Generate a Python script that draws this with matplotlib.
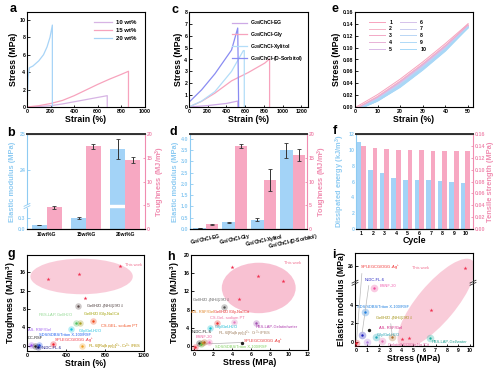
import numpy as np
import matplotlib
matplotlib.use("Agg")
from matplotlib import pyplot as plt
from matplotlib.patches import Ellipse

plt.rcParams['font.family'] = ['Liberation Sans', 'DejaVu Sans']
plt.rcParams['font.weight'] = 'bold'
plt.rcParams['axes.labelweight'] = 'bold'
plt.rcParams['mathtext.fontset'] = 'custom'
plt.rcParams['mathtext.rm'] = 'Liberation Sans'
plt.rcParams['mathtext.bf'] = 'Liberation Sans:bold'
plt.rcParams['mathtext.default'] = 'regular'
plt.rcParams['xtick.direction'] = 'in'
plt.rcParams['ytick.direction'] = 'in'
plt.rcParams['xtick.labelsize'] = 3.8
plt.rcParams['ytick.labelsize'] = 3.8
plt.rcParams['axes.labelsize'] = 6.3
plt.rcParams['axes.linewidth'] = 0.8
plt.rcParams['xtick.major.size'] = 1.8
plt.rcParams['ytick.major.size'] = 1.8
plt.rcParams['xtick.major.width'] = 0.6
plt.rcParams['ytick.major.width'] = 0.6
plt.rcParams['xtick.major.pad'] = 1.2
plt.rcParams['ytick.major.pad'] = 1.2
plt.rcParams['axes.labelpad'] = 1

BLUE = '#a3d3f7'
PINK = '#f7a8c2'
BLUE_TXT = '#8ecbf2'
PINK_TXT = '#f08cb0'

# ---- a: stress-strain, different glycerol content
a_labels = ['10 wt%', '15 wt%', '20 wt%']
a_colors = ['#d7b4e4', '#f7a3bd', '#a8d4f7']
a_strain = [
    [0, 100, 200, 300, 400, 500, 600, 680, 680],
    [0, 100, 200, 300, 400, 500, 600, 700, 800, 860, 860],
    [0, 10, 20, 50, 100, 140, 170, 195, 215, 215],
]
a_stress = [
    [0, 0.05, 0.15, 0.35, 0.6, 0.85, 1.1, 1.3, 0],
    [0, 0.15, 0.4, 0.75, 1.3, 1.95, 2.6, 3.2, 3.75, 4.1, 0],
    [0, 3.5, 4.5, 4.7, 5.3, 6.0, 6.9, 8.0, 9.4, 0],
]

# ---- c: stress-strain, different polyols
c_labels = ['G$_{20}$/ChCl-EG', 'G$_{20}$/ChCl-Gly', 'G$_{20}$/ChCl-Xylitol', 'G$_{20}$/ChCl-(D-Sorbitol)']
c_colors = ['#cda9e6', '#f7a3bd', '#b3ddf8', '#8a8cf2']
c_strain = [
    [0, 200, 400, 520, 520],
    [0, 135, 277, 454, 632, 809, 860, 860],
    [0, 135, 277, 454, 580, 590, 590],
    [0, 135, 277, 454, 520, 530],
]
c_stress = [
    [0, 0.12, 0.3, 0.5, 0],
    [0, 0.48, 1.17, 2.2, 2.9, 3.7, 4.05, 0],
    [0, 0.5, 1.3, 3.0, 4.75, 4.75, 0],
    [0.4, 1.45, 2.8, 4.8, 6.65, 0],
]

# ---- e: 10 loading-unloading cycles
e_cycles = ['1', '2', '3', '4', '5', '6', '7', '8', '9', '10']
e_colors = ['#f7a3bd', '#f6b4c8', '#f3a9c6', '#e8b2d6', '#d9b9e6',
            '#d5c2ea', '#c9cdf0', '#b9d6f5', '#afd9f7', '#a6d8f8']
e_grid = [10, 20, 30, 40, 50]
e_start = [0.5, 1.5, 2.0, 2.3, 2.6, 2.9, 3.1, 3.3, 3.5, 3.7]
e_end = [2.0, 2.6, 2.9, 3.2, 3.4, 3.6, 3.8, 3.9, 4.0, 4.1]
e_load = [
    [0.021, 0.047, 0.076, 0.107, 0.140],
    [0.018, 0.044, 0.073, 0.104, 0.138],
    [0.017, 0.043, 0.072, 0.103, 0.137],
    [0.016, 0.042, 0.071, 0.102, 0.136],
    [0.015, 0.041, 0.070, 0.101, 0.136],
    [0.014, 0.040, 0.069, 0.100, 0.135],
    [0.014, 0.039, 0.068, 0.099, 0.135],
    [0.013, 0.038, 0.067, 0.098, 0.134],
    [0.013, 0.037, 0.066, 0.098, 0.134],
    [0.012, 0.036, 0.065, 0.097, 0.133],
]
e_unload = [
    [0.016, 0.041, 0.070, 0.102, 0.140],
    [0.014, 0.039, 0.068, 0.100, 0.138],
    [0.013, 0.038, 0.067, 0.099, 0.137],
    [0.012, 0.037, 0.066, 0.098, 0.136],
    [0.012, 0.036, 0.065, 0.097, 0.136],
    [0.011, 0.035, 0.064, 0.096, 0.135],
    [0.011, 0.035, 0.064, 0.096, 0.135],
    [0.010, 0.034, 0.063, 0.095, 0.134],
    [0.010, 0.034, 0.063, 0.095, 0.134],
    [0.010, 0.033, 0.062, 0.094, 0.133],
]

# ---- b: modulus / toughness vs glycerol content
b_cats = ['10wt%G', '15wt%G', '20wt%G']
b_mod = [0.11, 0.30, 24.57]
b_mod_err = [0.01, 0.03, 0.28]
b_tough = [4.6, 17.4, 14.5]
b_tough_err = [0.3, 0.5, 0.6]

# ---- d: modulus / toughness vs polyol
d_cats = ['G$_{20}$/ChCl-EG', 'G$_{20}$/ChCl-Gly', 'G$_{20}$/ChCl-Xylitol', 'G$_{20}$/ChCl-(D-Sorbitol)']
d_mod = [0.045, 0.30, 0.42, 3.48]
d_mod_err = [0.01, 0.03, 0.05, 0.35]
d_tough = [1.0, 17.4, 10.3, 15.6]
d_tough_err = [0.1, 0.4, 2.3, 1.3]

# ---- f: dissipated energy / tensile strength per cycle
f_cycle = [1, 2, 3, 4, 5, 6, 7, 8, 9, 10]
f_energy = [11.0, 7.4, 7.1, 6.4, 6.25, 6.2, 6.15, 6.05, 5.95, 5.8]
f_strength = [0.139, 0.136, 0.134, 0.1335, 0.133, 0.1325, 0.132, 0.132, 0.1315, 0.1315]

# ---- g: toughness vs strain, comparison with literature
g_work_x = [220, 535, 955, 595]
g_work_y = [14.5, 15.6, 17.4, 10.4]
g_names = ['Gel/H$_2$O-(NH$_4$)$_2$SO$_4$', 'Gel/H$_2$O/Gly-Na$_3$Cit', 'PBS-LAP-Gel/H$_2$O',
           'CS-GEL- sodium PT', 'Gly/Gel-H$_2$O', 'AS- RSF/Gel', 'DC-RSF',
           'SDS/SDBS/Triton X-100/RSF', 'SPI-EGCG/OGG-Ag$^+$', 'N-DC-FL-6',
           'FL-6/[Ru(bpy)$_3$]$^{2+}$-Cr$^{3+}$/PBS']
g_x = [525, 545, 500, 682, 455, 40, 85, 120, 270, 110, 565]
g_y = [8.7, 4.95, 4.95, 5.3, 3.7, 0.15, 0.05, 0.3, 0.35, -0.3, 0.05]
g_colors = ['#5a4a4a', '#a8a020', '#50c060', '#f04818', '#18c8e0', '#a050f0',
            '#202020', '#2050e8', '#f02030', '#101070', '#f0a020']
g_txt_colors = ['#4a3a3a', '#a0a000', '#90d890', '#f05020', '#20c0e0', '#a060f0',
                '#202020', '#2060f0', '#f03040', '#101080', '#b09000']

# ---- h: toughness vs stress
h_work_x = [4.03, 6.67, 9.37, 4.70]
h_work_y = [17.3, 15.46, 14.36, 10.26]
h_names = ['Gel/H$_2$O-(NH$_4$)$_2$SO$_4$', 'AS- RSF/Gel', 'Gel/H$_2$O/Gly-Na$_3$Cit',
           'CS-Gel- sodium PT', 'PBS-LAP-Gelatin/water', 'Gly/Gel-H$_2$O', 'N-DC-FL-6',
           'FL-6/[Ru(bpy)$_3$]$^{2+}$ Cr$^{3+}$/PBS', 'BSNF-20', 'SPI-EGCG/OGG-Ag$^+$',
           'SDS/SDBS/Triton X-100/RSF']
h_x = [3.15, 0.8, 2.4, 4.2, 6.55, 1.65, 0.5, 1.0, 1.6, 0.05, 0.7]
h_y = [8.5, 0.7, 5.1, 5.2, 5.0, 3.9, 0.6, 0.9, 0.9, -0.15, 0.4]
h_colors = ['#505050', '#e08020', '#e83030', '#e080c0', '#a050b0', '#10c0d0', '#202020',
            '#b06020', '#f070b0', '#f02030', '#60c040']
h_txt_colors = ['#606060', '#e08020', '#e83030', '#f070a0', '#b040b0', '#10b8d0', '#202020',
                '#a08060', '#f060a0', '#e83030', '#80d060']

# ---- i: elastic modulus vs stress
i_work_x = [4.0, 4.7, 6.6, 9.6]
i_work_y = [0.28, 0.40, 3.5, 25.8]
i_names = ['SPI-EGCG/OGG-Ag$^+$', 'N-DC-FL-6', 'BSNF-20', 'SDS/SDBS/Triton X-100/RSF',
           'Gel/H$_2$O-(NH$_4$)$_2$SO$_4$', 'AS- RSF/Gel', 'Gly/Gel-H$_2$O',
           'Gelatin/H$_2$O/Gly-Na$_3$Cit', 'PBS-LAP-Gel/water']
i_x = [0.02, 0.5, 1.6, 0.8, 3.2, 0.95, 1.75, 2.3, 6.5]
i_y = [-0.15, 0.7, 5.9, 3.2, 0.5, -0.05, 0.5, 0.1, 0.45]
i_colors = ['#f02030', '#2020c0', '#f050a0', '#2080e0', '#b07030', '#b080e0',
            '#20a8b8', '#e070b0', '#20b0a0']
i_txt_colors = ['#f03030', '#2020c0', '#f060b0', '#2080e0', '#a09010', '#d02080',
                '#20a0b0', '#e060a0', '#20a090']


fig = plt.figure(figsize=(5, 3.7), dpi=100)


def make_ax(x0, y0, x1, y1):
    return fig.add_axes([x0 / 500, 1 - y1 / 370, (x1 - x0) / 500, (y1 - y0) / 370])


def letter(x, y, s):
    fig.text(x / 500, 1 - y / 370, s, fontsize=9, fontweight='bold', va='baseline')


def halo_points(ax, xs, ys, cols, big=22):
    for x, y, c in zip(xs, ys, cols):
        ax.scatter(x, y, s=big, color=c, alpha=0.3, linewidths=0, zorder=3)
        ax.scatter(x, y, s=3, color=c, linewidths=0, zorder=4)


def break_marks(ax, xs, y, color):
    for x in xs:
        for dy in (-0.012, 0.012):
            ax.plot([x - 0.025, x + 0.025], [y + dy - 0.015, y + dy + 0.015], transform=ax.transAxes,
                    color=color, lw=0.6, clip_on=False, zorder=6)


# a
ax = make_ax(27, 12, 145, 107)
for xs, ys, c, lab in zip(a_strain, a_stress, a_colors, a_labels):
    ax.plot(xs, ys, color=c, lw=0.9, label=lab)
ax.set_xlim(0, 1000)
ax.set_ylim(0, 10.9)
ax.set_xticks([0, 200, 400, 600, 800, 1000])
ax.set_yticks([0, 2, 4, 6, 8, 10])
ax.set_xlabel('Strain (%)')
ax.set_ylabel('Stress (MPa)')
ax.legend(loc='upper right', bbox_to_anchor=(0.97, 0.97), frameon=False, fontsize=4.3,
          handlelength=3, labelspacing=0.45, handletextpad=0.6)
letter(10, 12, 'a')

# c
ax = make_ax(189, 12, 308, 107)
for xs, ys, c, lab in zip(c_strain, c_stress, c_colors, c_labels):
    ax.plot(xs, ys, color=c, lw=0.9, label=lab)
ax.set_xlim(0, 1270)
ax.set_ylim(0, 8)
ax.set_xticks([0, 200, 400, 600, 800, 1000, 1200])
ax.set_yticks(range(0, 9))
ax.set_xlabel('Strain (%)')
ax.set_ylabel('Stress (MPa)')
ax.legend(loc='upper right', bbox_to_anchor=(1.0, 0.98), frameon=False, fontsize=3.7,
          handlelength=3, labelspacing=0.55, handletextpad=0.6)
letter(172, 13, 'c')

# e
ax = make_ax(355, 12, 473, 107)
for k in range(len(e_cycles)):
    ax.plot([e_start[k]] + e_grid, [0] + e_load[k], color=e_colors[k], lw=0.7, label=e_cycles[k])
    ax.plot([e_end[k]] + e_grid, [0] + e_unload[k], color=e_colors[k], lw=0.7)
ax.set_xlim(0, 52.2)
ax.set_ylim(0, 0.16)
ax.set_xticks([0, 10, 20, 30, 40, 50])
ax.set_yticks(np.arange(0, 0.161, 0.02))
ax.yaxis.set_major_formatter('{x:.2f}')
ax.set_xlabel('Strain (%)')
ax.set_ylabel('Stress (MPa)')
ax.legend(ncol=2, loc='upper left', bbox_to_anchor=(0.08, 0.97), frameon=False, fontsize=3.8,
          handlelength=3, labelspacing=0.35, handletextpad=0.8, columnspacing=1.5)
letter(332, 12, 'e')


def twin_bars(ax, cats, left, left_err, right, right_err, width):
    pos = np.arange(len(cats))
    ax2 = ax.twinx()
    ax.bar(pos - width / 2, left, width, color=BLUE, zorder=2)
    ax.errorbar(pos - width / 2, left, yerr=left_err, fmt='none', ecolor='#333333',
                elinewidth=0.7, capsize=1.2, capthick=0.6, zorder=4)
    ax2.bar(pos + width / 2, right, width, color=PINK, zorder=2)
    ax2.errorbar(pos + width / 2, right, yerr=right_err, fmt='none', ecolor='#333333',
                 elinewidth=0.7, capsize=1.2, capthick=0.6, zorder=4)
    ax.spines['left'].set_color(BLUE_TXT)
    ax.spines['right'].set_visible(False)
    ax2.spines['left'].set_visible(False)
    ax2.spines['right'].set_color(PINK_TXT)
    ax2.spines['top'].set_linewidth(1.4)
    ax2.spines['top'].set_color('#333333')
    ax.tick_params(axis='y', colors=BLUE_TXT)
    ax2.tick_params(axis='y', colors=PINK_TXT)
    ax.set_xticks(pos)
    ax.tick_params(axis='x', length=0, pad=2)
    ax.set_ylabel('Elastic modulus (MPa)', color=BLUE_TXT, fontsize=5.4)
    ax2.set_ylabel('Toughness (MJ/m$^3$)', color=PINK_TXT, fontsize=5.4)
    ax2.set_ylim(0, 20)
    ax2.set_yticks([0, 5, 10, 15, 20])
    return ax2


# b  (broken left axis)
b_xp = [0, 0.62, 23.0, 25.0]
b_fp = [0, 0.232, 0.252, 1.0]
ax = make_ax(27, 134, 145, 229)
ax.set_yscale('function', functions=(lambda v: np.interp(v, b_xp, b_fp),
                                      lambda v: np.interp(v, b_fp, b_xp)))
ax.set_ylim(0, 25)
ax2 = twin_bars(ax, b_cats, b_mod, b_mod_err, b_tough, b_tough_err, 0.38)
ax.axhspan(0.62, 23.0, color='white', zorder=3)
ax.set_yticks([0, 0.3, 24, 25])
ax.set_yticklabels(['0.0', '0.3', '24', '25'])
ax.set_xlim(-0.5, 2.5)
ax.set_xticklabels(b_cats, fontsize=3.6)
break_marks(ax, [0.0], 0.242, BLUE_TXT)
letter(7, 136, 'b')

# d
ax = make_ax(190, 134, 307, 229)
ax2 = twin_bars(ax, d_cats, d_mod, d_mod_err, d_tough, d_tough_err, 0.42)
ax.set_ylim(0, 4.21)
ax.set_yticks(np.arange(0, 4.01, 0.5))
ax.yaxis.set_major_formatter('{x:.1f}')
ax.set_xlim(-0.54, 3.5)
ax.set_xticklabels(d_cats, fontsize=3.5, rotation=12, ha='center')
letter(170, 135, 'd')

# f
ax = make_ax(356, 134, 473, 229)
pos = np.array(f_cycle)
ax2 = ax.twinx()
ax.bar(pos - 0.2, f_energy, 0.4, color=BLUE, zorder=2)
ax2.bar(pos + 0.2, f_strength, 0.4, color=PINK, zorder=2)
ax.spines['left'].set_color(BLUE_TXT)
ax.spines['right'].set_visible(False)
ax2.spines['left'].set_visible(False)
ax2.spines['right'].set_color(PINK_TXT)
ax2.spines['top'].set_linewidth(1.4)
ax2.spines['top'].set_color('#333333')
ax.tick_params(axis='y', colors=BLUE_TXT)
ax2.tick_params(axis='y', colors=PINK_TXT)
ax.set_xlim(0.55, 10.65)
ax.set_xticks(f_cycle)
ax.set_ylim(0, 12)
ax.set_yticks(range(0, 13, 2))
ax2.set_ylim(0, 0.16)
ax2.set_yticks(np.arange(0, 0.161, 0.02))
ax2.yaxis.set_major_formatter('{x:.2f}')
ax.set_xlabel('Cycle', labelpad=0)
ax.set_ylabel('Dissipated energy (kJ/m$^3$)', color=BLUE_TXT, fontsize=5.4)
ax2.set_ylabel('Tensile strength (MPa)', color=PINK_TXT, fontsize=5.4)
letter(333, 134, 'f')

LIT_FS = 2.9

# g
ax = make_ax(27, 255, 144, 351)
ax.add_patch(Ellipse((560, 15.05), 1050, 7.7, color='#f9c3d3', alpha=0.85, lw=0, zorder=1))
ax.scatter(g_work_x, g_work_y, marker='*', s=9, color='#f03050', linewidths=0, zorder=4)
ax.text(1000, 17.5, 'This work', color='#f07090', fontsize=LIT_FS, fontweight='normal', va='center')
halo_points(ax, g_x, g_y, g_colors)
g_lab = [(600, 8.7), (570, 7.0), (110, 6.7), (760, 4.35), (525, 3.3), (10, 3.4),
         (5, 1.8), (118, 2.4), (275, 1.05), (150, -0.35), (625, -0.15)]
for (tx, ty), name, c in zip(g_lab, g_names, g_txt_colors):
    ax.text(tx, ty, name, color=c, fontsize=LIT_FS, fontweight='normal', va='center')
ax.set_xlim(0, 1200)
ax.set_ylim(-1.1, 19.7)
ax.set_xticks([0, 400, 800, 1200])
ax.set_yticks([0, 4, 8, 12, 16])
ax.set_xlabel('Strain (%)')
ax.set_ylabel('Toughness (MJ/m$^3$)')
letter(7, 257, 'g')

# h
ax = make_ax(191, 255, 308, 350)
ax.add_patch(Ellipse((6.8, 12.75), 7.8, 11.1, color='#f7b6cb', alpha=0.85, lw=0, zorder=1))
ax.scatter(h_work_x, h_work_y, marker='*', s=9, color='#f03050', linewidths=0, zorder=4)
ax.text(9.5, 18.2, 'This work', color='#f07090', fontsize=LIT_FS, fontweight='normal', va='center')
halo_points(ax, h_x, h_y, h_colors)
ax.plot([0.7, 5.0], [0.4, 0.75], color='#b0b0b0', lw=0.5, zorder=2)
ax.scatter([5.0], [0.75], s=2, color='#202020', zorder=4)
h_lab = [(-0.25, 10.2), (-0.3, 7.4), (2.0, 7.4), (1.7, 6.2), (6.5, 4.1), (2.1, 4.1),
         (-0.3, 3.0), (2.5, 2.6), (0.1, 1.9), (5.1, 1.0), (2.15, -0.3)]
for (tx, ty), name, c in zip(h_lab, h_names, h_txt_colors):
    ax.text(tx, ty, name, color=c, fontsize=LIT_FS, fontweight='normal', va='center')
ax.set_xlim(-0.35, 12)
ax.set_ylim(-0.9, 20)
ax.set_xticks(range(0, 13, 2))
ax.set_yticks(range(0, 21, 4))
ax.set_xlabel('Stress (MPa)')
ax.set_ylabel('Toughness (MJ/m$^3$)')
letter(167, 260, 'h')

# i  (broken y axis)
i_xp = [-0.47, 6.37, 24.28, 27.42]
i_fp = [0, 0.674, 0.69, 1.0]
ax = make_ax(355, 253, 473, 346)
ax.set_yscale('function', functions=(lambda v: np.interp(v, i_xp, i_fp),
                                      lambda v: np.interp(v, i_fp, i_xp)))
ax.set_ylim(-0.47, 27.42)
ax.set_xlim(-0.1, 10.3)
ax.add_patch(Ellipse((4.363, 0.667), 1.12, 0.38, angle=50, transform=fig.dpi_scale_trans,
                     color='#f9c3d3', alpha=0.85, lw=0, zorder=1, clip_path=ax.patch))
ax.scatter(i_work_x, i_work_y, marker='*', s=9, color='#f03050', linewidths=0, zorder=4)
halo_points(ax, i_x, i_y, i_colors, big=30)
ax.scatter([1.1], [1.3], s=2, color='#202020', zorder=4)
i_lab = [(0.04, 0.84), (0.08, 0.71), (0.21, 0.65), (0.02, 0.42), (0.17, 0.30), (0.20, 0.19),
         (0.18, 0.12), (0.27, 0.01), (0.65, 0.04)]
for (tx, ty), name, c in zip(i_lab, i_names, i_txt_colors):
    ax.text(tx, ty, name, color=c, fontsize=LIT_FS, fontweight='normal', va='center',
            transform=ax.transAxes)
ax.text(0.48, 0.84, 'This work', color='#f07090', fontsize=LIT_FS, fontweight='normal',
        va='center', transform=ax.transAxes)
for (fx, fy), px, py in [((0.06, 0.81), 0.02, -0.15), ((0.12, 0.68), 0.5, 0.7), ((0.3, 0.27), 3.2, 0.5)]:
    ax.annotate('', xy=(px, py), xytext=(fx, fy), textcoords='axes fraction',
                arrowprops=dict(arrowstyle='-', color='#b8b8b8', lw=0.5))
ax.set_xticks(range(0, 11))
ax.set_yticks([0, 2, 4, 26])
ax.set_xlabel('Stress (MPa)')
ax.set_ylabel('Elastic modulus (MPa)')
break_marks(ax, [0.0, 1.0], 0.68, '#333333')
letter(332, 258, 'i')

fig.savefig('out.png', dpi=100)
